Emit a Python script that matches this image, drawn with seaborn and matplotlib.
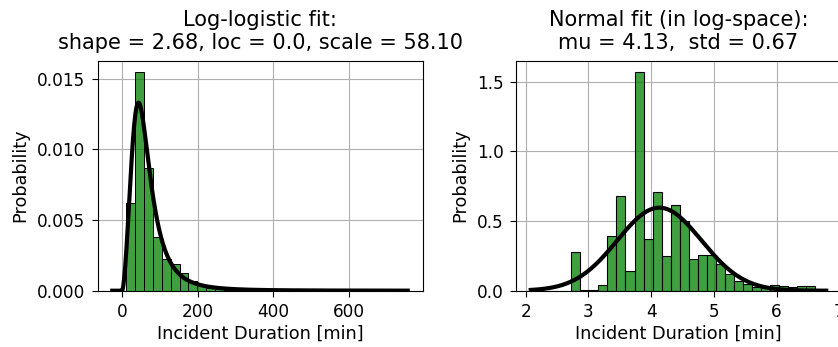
import numpy as np
import pandas as pd
import matplotlib
matplotlib.use("Agg")
import matplotlib.pyplot as plt
import seaborn as sns

# histogram of incident durations (minutes)
dur_bin_start = 9.8
dur_bin_width = 23.7
dur_prob = [0.00618, 0.01549, 0.00871, 0.00378, 0.00225, 0.00188, 0.00125,
            0.00066, 0.00040, 0.00022, 0.00012, 0.00008, 0.00005, 0.00004,
            0.00003, 0.00002, 0.00002, 0.00002, 0.00001, 0.00001, 0.00001,
            0.00001, 0.00001, 0.00001, 0.00001, 0.00001, 0.00001, 0.00000,
            0.00001, 0.00001]

# histogram of log durations
log_bin_start = 2.727
log_bin_width = 0.1438
log_prob = [0.279, 0.003, 0.005, 0.043, 0.393, 0.680, 0.139, 1.571, 0.370,
            0.711, 0.250, 0.618, 0.503, 0.229, 0.253, 0.255, 0.193, 0.122,
            0.069, 0.048, 0.029, 0.019, 0.038, 0.036, 0.026, 0.031, 0.036]

# fitted parameters (from the titles)
ll_shape, ll_loc, ll_scale = 2.68, 0.0, 58.10
mu, std = 4.13, 0.67
dur_range = (-26, 756)
log_range = (2.08, 6.79)

fig = plt.figure(figsize=(8.38, 3.47), dpi=100)
ax1 = fig.add_axes([97.5 / 838, 56.3 / 347, 325 / 838, 230 / 347])
ax2 = fig.add_axes([516 / 838, 56.3 / 347, 325 / 838, 230 / 347])

# left: log-logistic
edges = dur_bin_start + dur_bin_width * np.arange(len(dur_prob) + 1)
hist = pd.DataFrame({"dur": (edges[:-1] + edges[1:]) / 2, "prob": dur_prob})
sns.histplot(data=hist, x="dur", weights="prob", bins=edges.tolist(),
             color="green", ax=ax1)
x = np.linspace(dur_range[0], dur_range[1], 500)
z = np.clip((x - ll_loc) / ll_scale, 0, None)
pdf = (ll_shape / ll_scale) * z ** (ll_shape - 1) / (1 + z ** ll_shape) ** 2
sns.lineplot(x=x, y=pdf, color="black", lw=3, ax=ax1)
ax1.set_title("Log-logistic fit:\nshape = %.2f, loc = %.1f, scale = %.2f"
              % (ll_shape, ll_loc, ll_scale), fontsize=15, pad=8.5)

# right: normal in log-space
edges = log_bin_start + log_bin_width * np.arange(len(log_prob) + 1)
hist = pd.DataFrame({"dur": (edges[:-1] + edges[1:]) / 2, "prob": log_prob})
sns.histplot(data=hist, x="dur", weights="prob", bins=edges.tolist(),
             color="green", ax=ax2)
x = np.linspace(log_range[0], log_range[1], 500)
pdf = np.exp(-0.5 * ((x - mu) / std) ** 2) / (std * np.sqrt(2 * np.pi))
sns.lineplot(x=x, y=pdf, color="black", lw=3, ax=ax2)
ax2.set_title("Normal fit (in log-space):\nmu = %.2f,  std = %.2f" % (mu, std),
              fontsize=15, pad=8.5)

for ax in (ax1, ax2):
    ax.grid(True)
    ax.set_axisbelow(True)
    ax.set_xlabel("Incident Duration [min]", fontsize=12.7, labelpad=2.5)
    ax.set_ylabel("Probability", fontsize=12.7, labelpad=5.5)
    ax.tick_params(labelsize=12.2, length=4.3, pad=4.5)

fig.savefig("out.png", dpi=100)
